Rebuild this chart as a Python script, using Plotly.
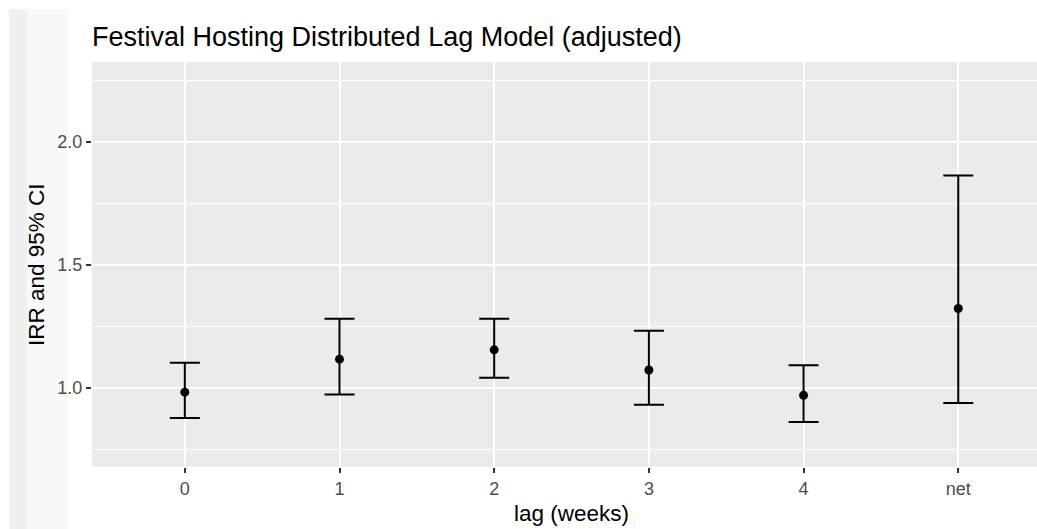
import plotly.graph_objects as go

lags = ["0", "1", "2", "3", "4", "net"]
irr = [0.983, 1.117, 1.155, 1.073, 0.970, 1.323]
ci_lower = [0.878, 0.973, 1.041, 0.932, 0.862, 0.939]
ci_upper = [1.102, 1.281, 1.281, 1.233, 1.092, 1.864]

W, H = 1037, 529
ML, MR, MT, MB = 92, 0, 62, 62
PW = W - ML - MR
PH = H - MT - MB

def px_x(p):
    return (p - ML) / PW

def px_y(p):
    return (H - MB - p) / PH

fig = go.Figure()
fig.add_trace(go.Scatter(
    x=lags, y=irr, mode="markers",
    marker=dict(color="black", size=9),
    error_y=dict(type="data", symmetric=False,
                 array=[u - e for u, e in zip(ci_upper, irr)],
                 arrayminus=[e - l for e, l in zip(irr, ci_lower)],
                 color="black", thickness=2, width=15),
    showlegend=False, hoverinfo="skip",
))

font = "Liberation Sans, Arial, Helvetica, sans-serif"

fig.update_layout(
    width=W, height=H,
    margin=dict(l=ML, r=MR, t=MT, b=MB, pad=0),
    paper_bgcolor="white",
    plot_bgcolor="#ebebeb",
    font=dict(family=font, color="#4d4d4d"),
    title=dict(text="Festival Hosting Distributed Lag Model (adjusted)",
               font=dict(size=27, color="black", family=font),
               x=px_x(92), xref="paper", xanchor="left",
               y=1 - 37 / H, yref="container", yanchor="middle"),
    xaxis=dict(type="category", range=[-0.6, 5.509],
               showgrid=True, gridcolor="white", gridwidth=2,
               ticks="outside", ticklen=5, tickwidth=2, tickcolor="#333333",
               tickfont=dict(size=18, color="#4d4d4d"),
               zeroline=False, showline=False, fixedrange=True),
    yaxis=dict(range=[0.6785, 2.3256],
               tickvals=[1.0, 1.5, 2.0], ticktext=["1.0", "1.5", "2.0"],
               showgrid=True, gridcolor="white", gridwidth=2,
               minor=dict(tickvals=[0.75, 1.25, 1.75, 2.25], showgrid=True,
                          gridcolor="white", gridwidth=1, ticks=""),
               ticks="outside", ticklen=5, tickwidth=2, tickcolor="#333333",
               tickfont=dict(size=18, color="#4d4d4d"),
               zeroline=False, showline=False, fixedrange=True),
    annotations=[
        dict(text="lag (weeks)", xref="paper", yref="paper",
             x=px_x(571.4), y=px_y(513), xanchor="center", yanchor="middle",
             showarrow=False, font=dict(size=22.5, color="black", family=font)),
        dict(text="IRR and 95% CI", xref="paper", yref="paper",
             x=px_x(36.5), y=0.5, xanchor="center", yanchor="middle",
             textangle=-90, showarrow=False,
             font=dict(size=22.5, color="black", family=font)),
    ],
    shapes=[
        dict(type="rect", xref="paper", yref="paper", layer="below",
             x0=px_x(9), x1=px_x(27), y0=px_y(H), y1=px_y(9),
             fillcolor="#f0f0f0", line=dict(width=0)),
        dict(type="rect", xref="paper", yref="paper", layer="below",
             x0=px_x(27), x1=px_x(68), y0=px_y(H), y1=px_y(9),
             fillcolor="#f8f8f8", line=dict(width=0)),
    ],
)

fig.write_html("out.html")
